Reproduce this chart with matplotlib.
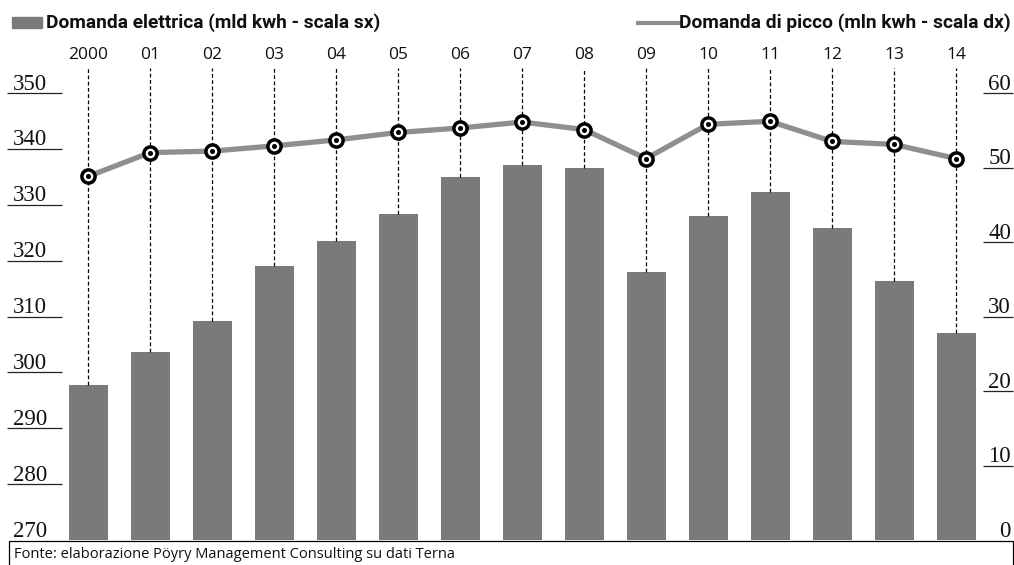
import numpy as np
import matplotlib
matplotlib.use("Agg")
import matplotlib.pyplot as plt
from matplotlib.patches import Rectangle
from matplotlib.lines import Line2D

# Electricity demand (TWh, left scale) and peak demand (right scale), 2000-2014
years = ["2000", "01", "02", "03", "04", "05", "06", "07",
         "08", "09", "10", "11", "12", "13", "14"]
domanda = [297.8, 303.7, 309.2, 319.1, 323.5, 328.4, 334.9, 337.2,
           336.5, 318.0, 327.9, 332.2, 325.8, 316.4, 307.1]
picco = [48.8, 52.0, 52.2, 52.9, 53.7, 54.7, 55.3, 56.1,
         55.1, 51.2, 55.8, 56.2, 53.5, 53.1, 51.2]

left_ticks = [270, 280, 290, 300, 310, 320, 330, 340, 350]
right_ticks = [0, 10, 20, 30, 40, 50, 60]

legend_bar = "Domanda elettrica (mld kwh - scala sx)"
legend_line = "Domanda di picco (mln kwh - scala dx)"
source = "Fonte: elaborazione Pöyry Management Consulting su dati Terna"

BAR_COLOR = "#7a7a7a"
LINE_COLOR = "#8f8f8f"
W, H = 1014, 565

fig = plt.figure(figsize=(W / 100, H / 100), dpi=100)

# axes box in pixel units
x0, x1 = 62, 983
y_bot, y_top = 540, 93
ax = fig.add_axes([x0 / W, (H - y_bot) / H, (x1 - x0) / W, (y_bot - y_top) / H])
ax2 = ax.twinx()

x = np.arange(len(years))
ax.bar(x, domanda, width=0.63, color=BAR_COLOR, zorder=2)
ax.set_ylim(left_ticks[0], left_ticks[-1])
ax.set_xlim(-0.42, len(years) - 1 + 0.435)

# dashed guides from the year labels down to the top of each bar
guide_top = left_ticks[-1] + (y_top - 68) / (y_bot - y_top) * (left_ticks[-1] - left_ticks[0])
ax.vlines(x, domanda, guide_top, colors="black", linestyles=(0, (3, 2)),
          linewidth=0.9, clip_on=False, zorder=3)

ax2.plot(x, picco, color=LINE_COLOR, linewidth=3.8, zorder=4, solid_capstyle="round")
ax2.plot(x, picco, linestyle="none", marker="o", markersize=9.5,
         markerfacecolor="white", markeredgecolor="black", markeredgewidth=2.5, zorder=5)
ax2.plot(x, picco, linestyle="none", marker="o", markersize=2.6,
         color="black", zorder=6)
ax2.set_ylim(right_ticks[0], right_ticks[-1])

for a in (ax, ax2):
    for s in a.spines.values():
        s.set_visible(False)
    a.set_xticks([])

# underline ticks (no mark at the baseline values)
ax.set_yticks(left_ticks[1:])
ax.tick_params(axis="y", direction="out", length=39.5, width=0.9,
               color="#222222", labelleft=False, pad=0)
ax2.set_yticks(right_ticks[1:])
ax2.tick_params(axis="y", direction="out", length=21.5, width=0.9,
                color="#222222", labelright=False, pad=0)

serif = dict(family="Liberation Serif", fontsize=16.5, color="#111111", va="baseline")
for v in left_ticks:
    ax.annotate(str(v), xy=(47, v), xycoords=("figure pixels", "data"),
                xytext=(0, 2.5), textcoords="offset points", ha="right", **serif)
for v in right_ticks:
    ax2.annotate(str(v), xy=(1011, v), xycoords=("figure pixels", "data"),
                 xytext=(0, 2.5), textcoords="offset points", ha="right", **serif)

# year labels above the guides
for xi, lab in zip(x, years):
    ax.annotate(lab, xy=(xi, H - 55), xycoords=("data", "figure pixels"),
                ha="center", va="center", family="Open Sans", fontsize=12.5,
                color="#111111")

# legend row
fig.add_artist(Rectangle((12 / W, (H - 28) / H), 30 / W, 11 / H,
                         transform=fig.transFigure, color=BAR_COLOR))
fig.text(46 / W, (H - 23) / H, legend_bar, ha="left", va="center",
         family="Roboto", weight="bold", fontsize=13.8, color="#111111")
fig.add_artist(Line2D([638 / W, 679 / W], [(H - 23) / H] * 2,
                      transform=fig.transFigure, color=LINE_COLOR, linewidth=3))
fig.text(1011 / W, (H - 23) / H, legend_line, ha="right", va="center",
         family="Roboto", weight="bold", fontsize=13.8, color="#111111")

# source box at the bottom
fig.add_artist(Rectangle((9 / W, -5 / H), 1004 / W, (H - 541 + 5) / H,
                         transform=fig.transFigure, fill=False,
                         edgecolor="black", linewidth=0.9))
fig.text(14 / W, (H - 554) / H, source, ha="left", va="center",
         family="Open Sans", fontsize=10.5, color="#111111")

fig.savefig("out.png", dpi=100, facecolor="white")
